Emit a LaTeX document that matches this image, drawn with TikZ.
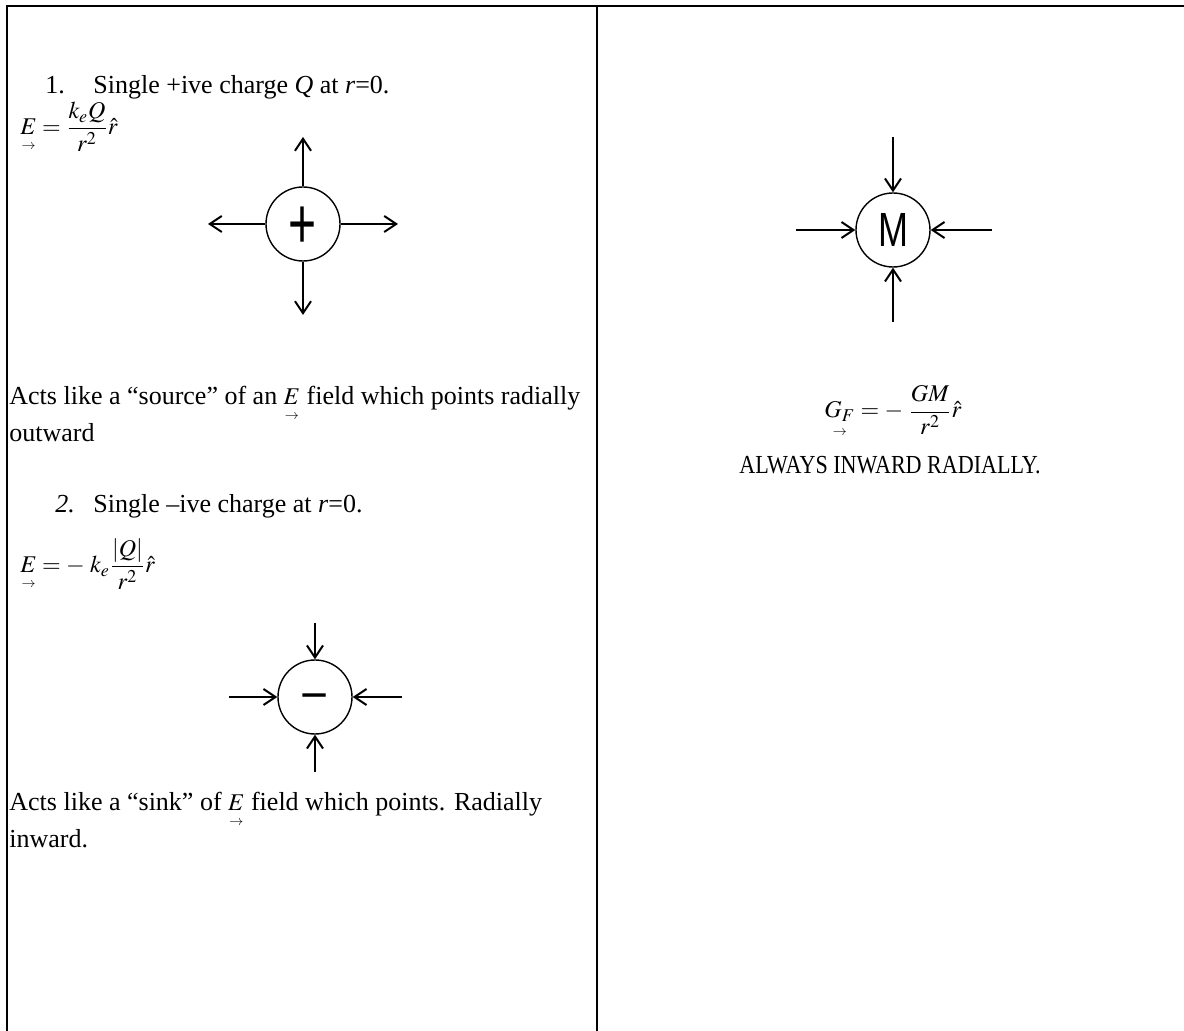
\documentclass[tikz,border=0pt]{standalone}
\usepackage{amsmath}
\usepackage{mathptmx}
\usepackage{fontspec}
\setmainfont{Liberation Serif}
\newfontfamily\chargefont{Liberation Sans}
\usetikzlibrary{positioning,arrows.meta}
\newcommand{\mathsz}{\fontsize{12}{14}\selectfont}
\newcommand{\vecbelow}[1]{\underset{\scriptscriptstyle\rightarrow}{#1}}

\begin{document}
\begin{tikzpicture}[
      x=0.5pt, y=-0.5pt,
      txt/.style={anchor=base west, inner sep=0pt, font=\fontsize{13}{15}\selectfont},
      eqn/.style={anchor=west, inner sep=0pt, font=\mathsz},
      charge/.style={circle, draw, line width=0.7pt, minimum size=37pt,
        inner sep=0pt, font=\chargefont},
      fieldarr/.style={-{Straight Barb[length=6pt,width=8pt]}, line width=1pt},
      cell/.style={line width=0.9pt}]
    \useasboundingbox (0,0) rectangle (1184,1031);
    % table frame
    \draw[cell] (7,1031) -- (7,6) -- (1184,6);
    \draw[line width=0.6pt] (597,6) -- (597,1031);

    % left column: positive charge
    \node[txt] (item1) at (45,94) {\makebox[24pt][l]{1.}Single +ive charge \textit{Q} at \textit{r}=0.};
    \node[eqn] (eqE1) at (20,127) {$\vecbelow{E} = \dfrac{k_e Q}{r^2}\hat{r}$};
    \node[charge, font=\chargefont\fontsize{30}{30}\selectfont,
      text height=24.8pt, text depth=0pt] (plus) at (303,224) {\scalebox{0.8}[1.2]{+}};
    \coordinate (plusN) at (303,137);
    \coordinate (plusS) at (303,315);
    \coordinate (plusW) at (208,224);
    \coordinate (plusE) at (398,224);
    \draw[fieldarr] (plus.north) -- (plusN);
    \draw[fieldarr] (plus.south) -- (plusS);
    \draw[fieldarr] (plus.west) -- (plusW);
    \draw[fieldarr] (plus.east) -- (plusE);
    \node[txt] (srcA) at (9,405) {Acts like a “source” of an {\mathsz$\vecbelow{E}$} field which points radially};
    \node[txt] (srcB) at (9,442) {outward};

    % left column: negative charge
    \node[txt] (item2) at (55,513) {\makebox[19pt][l]{\textit{2.}}Single –ive charge at \textit{r}=0.};
    \node[eqn] (eqE2) at (20,564) {$\vecbelow{E} = -\;k_e\dfrac{\left|Q\right|}{r^2}\hat{r}$};
    \node[charge, font=\chargefont\fontsize{24}{24}\selectfont,
      text height=14.8pt, text depth=0pt] (minus) at (315,697) {−};
    \coordinate (minusN) at (315,623);
    \coordinate (minusS) at (315,772);
    \coordinate (minusW) at (229,697);
    \coordinate (minusE) at (402,697);
    \draw[fieldarr] (minusN) -- (minus.north);
    \draw[fieldarr] (minusS) -- (minus.south);
    \draw[fieldarr] (minusW) -- (minus.west);
    \draw[fieldarr] (minusE) -- (minus.east);
    \node[txt] (sinkA) at (9,811) {Acts like a “sink” of {\mathsz$\vecbelow{E}$} field which points. Radially};
    \node[txt] (sinkB) at (9,848) {inward.};

    % right column: mass
    \node[charge, font=\chargefont\fontsize{24}{24}\selectfont] (mass) at (893,230) {\scalebox{0.75}[1]{M}};
    \coordinate (massN) at (893,137);
    \coordinate (massS) at (893,322);
    \coordinate (massW) at (796,230);
    \coordinate (massE) at (992,230);
    \draw[fieldarr] (massN) -- (mass.north);
    \draw[fieldarr] (massS) -- (mass.south);
    \draw[fieldarr] (massW) -- (mass.west);
    \draw[fieldarr] (massE) -- (mass.east);
    \node[eqn, anchor=center] (eqG) at (893,412) {$\vecbelow{G_F} = -\;\dfrac{GM}{r^2}\hat{r}$};
    \node[txt, anchor=base] (always) at (890,474) {\scalebox{0.85}[1]{ALWAYS INWARD RADIALLY.}};
\end{tikzpicture}
\end{document}
